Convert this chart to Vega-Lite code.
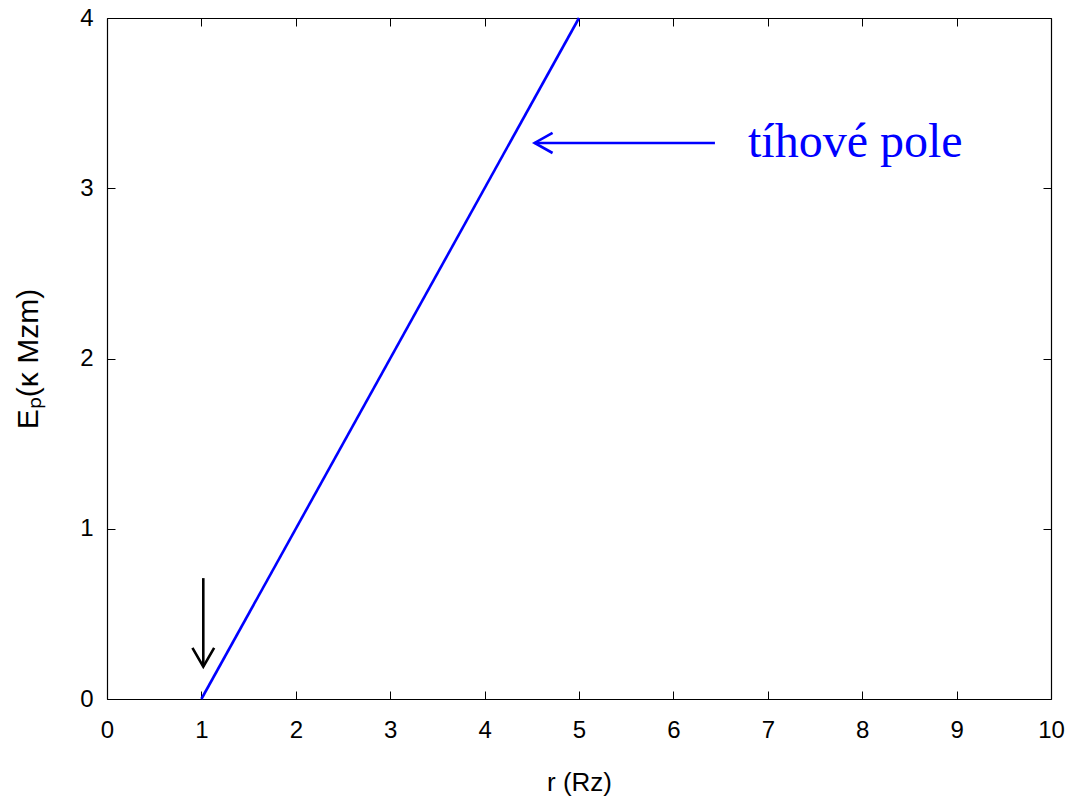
{
  "$schema": "https://vega.github.io/schema/vega-lite/v6.json",
  "autosize": {"type": "none"},
  "width": 944,
  "height": 681,
  "padding": {"left": 107, "top": 18, "right": 17, "bottom": 105},
  "background": "white",
  "config": {
    "view": {"stroke": null},
    "axis": {
      "grid": false,
      "domainColor": "black",
      "domainWidth": 1.2,
      "tickColor": "black",
      "tickSize": -8,
      "tickWidth": 1,
      "labelFlush": false,
      "labelOverlap": false,
      "labelFont": "Liberation Sans",
      "labelFontSize": 24,
      "labelColor": "black",
      "titleFont": "Liberation Sans",
      "titleFontSize": 26,
      "titleFontWeight": "normal",
      "titleColor": "black"
    }
  },
  "datasets": {
    "lines": [
      {"x": 1, "y": 0, "g": "pole", "o": 1, "k": "modrá"},
      {"x": 5, "y": 4, "g": "pole", "o": 2, "k": "modrá"},
      {"x": 6.44, "y": 3.266, "g": "modrá šipka", "o": 1, "k": "modrá"},
      {"x": 4.53, "y": 3.266, "g": "modrá šipka", "o": 2, "k": "modrá"},
      {"x": 4.72, "y": 3.325, "g": "modrý hrot", "o": 1, "k": "modrá"},
      {"x": 4.53, "y": 3.266, "g": "modrý hrot", "o": 2, "k": "modrá"},
      {"x": 4.72, "y": 3.207, "g": "modrý hrot", "o": 3, "k": "modrá"},
      {"x": 1.02, "y": 0.71, "g": "černá šipka", "o": 1, "k": "černá"},
      {"x": 1.02, "y": 0.19, "g": "černá šipka", "o": 2, "k": "černá"},
      {"x": 0.905, "y": 0.30, "g": "černý hrot", "o": 1, "k": "černá"},
      {"x": 1.02, "y": 0.19, "g": "černý hrot", "o": 2, "k": "černá"},
      {"x": 1.135, "y": 0.30, "g": "černý hrot", "o": 3, "k": "černá"}
    ],
    "labels": [
      {"x": 6.79, "y": 3.266, "t": "tíhové pole"}
    ]
  },
  "layer": [
    {
      "data": {"name": "lines"},
      "mark": {"type": "line", "strokeWidth": 2.6},
      "encoding": {
        "x": {"field": "x", "type": "quantitative", "scale": {"domain": [0, 10], "nice": false, "zero": false},
              "axis": {"orient": "bottom", "values": [0,1,2,3,4,5,6,7,8,9,10], "title": "r (Rᴢ)", "labelPadding": 27, "titleY": 70}},
        "y": {"field": "y", "type": "quantitative", "scale": {"domain": [0, 4], "nice": false, "zero": false},
              "axis": {"orient": "left", "values": [0,1,2,3,4], "title": "Eₚ(κ Mᴢm)", "titleFontSize": 30, "labelPadding": 22, "titleX": -64}},
        "detail": {"field": "g"},
        "order": {"field": "o"},
        "color": {"field": "k", "type": "nominal", "scale": {"domain": ["modrá", "černá"], "range": ["#0000ff", "#000000"]}, "legend": null}
      }
    },
    {
      "data": {"name": "labels"},
      "mark": {"type": "text", "align": "left", "baseline": "middle", "font": "Liberation Serif", "fontSize": 48, "color": "#0000ff", "dy": 0},
      "encoding": {
        "x": {"field": "x", "type": "quantitative", "axis": {"orient": "top", "values": [0,1,2,3,4,5,6,7,8,9,10], "labels": false, "title": null}},
        "y": {"field": "y", "type": "quantitative", "axis": {"orient": "right", "values": [0,1,2,3,4], "labels": false, "title": null}},
        "text": {"field": "t"}
      }
    }
  ],
  "resolve": {"axis": {"x": "independent", "y": "independent"}}
}
